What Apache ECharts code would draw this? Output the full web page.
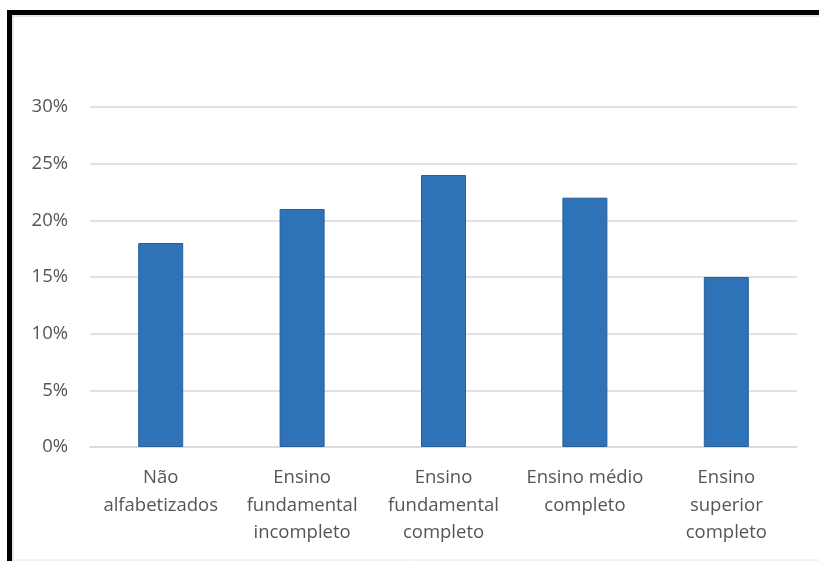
<!DOCTYPE html>
<html>
<head>
<meta charset="utf-8">
<script src="https://cdn.jsdelivr.net/npm/echarts@6/dist/echarts.min.js"></script>
<style>
html,body{margin:0;padding:0;background:#fff;}
#c{width:819px;height:561px;}
</style>
</head>
<body>
<div id="c"></div>
<script>
var categories = ['Não\nalfabetizados', 'Ensino\nfundamental\nincompleto', 'Ensino\nfundamental\ncompleto', 'Ensino médio\ncompleto', 'Ensino\nsuperior\ncompleto'];
var values = [18, 21, 24, 22, 15];
var yTicks = [0, 5, 10, 15, 20, 25, 30];

var chart = echarts.init(document.getElementById('c'));
chart.setOption({
  animation: false,
  grid: {left: 90, right: 22, top: 107, bottom: 114},
  xAxis: {
    type: 'category',
    data: categories,
    axisLine: {show: true, lineStyle: {color: '#d9d9d9', width: 1.5}},
    axisTick: {show: false},
    axisLabel: {
      color: '#555555', fontSize: 18.5, fontFamily: 'Open Sans', lineHeight: 27.5,
      margin: 17, interval: 0
    }
  },
  yAxis: {
    type: 'value',
    min: yTicks[0], max: yTicks[yTicks.length - 1], interval: 5,
    axisLine: {show: false},
    axisTick: {show: false},
    splitLine: {lineStyle: {color: '#d9d9d9', width: 1.5}},
    axisLabel: {
      color: '#555555', fontSize: 18.5, fontFamily: 'Open Sans', margin: 22,
      formatter: function (v) { return v + '%'; }
    }
  },
  series: [{
    type: 'bar',
    data: values,
    barWidth: 45,
    itemStyle: {color: '#2e73b7', borderColor: '#285f98', borderWidth: 1}
  }],
  graphic: [
    {type: 'rect', shape: {x: 7, y: 10, width: 812, height: 5}, style: {fill: '#000'}},
    {type: 'rect', shape: {x: 7, y: 10, width: 5, height: 551}, style: {fill: '#000'}},
    {type: 'line', shape: {x1: 12, y1: 16, x2: 819, y2: 16}, style: {stroke: '#e0e0e0', lineWidth: 1.5}},
    {type: 'line', shape: {x1: 13, y1: 15, x2: 13, y2: 561}, style: {stroke: '#e0e0e0', lineWidth: 1.5}},
    {type: 'line', shape: {x1: 12, y1: 560, x2: 819, y2: 560}, style: {stroke: '#e6e6e6', lineWidth: 1}}
  ]
});
</script>
</body>
</html>
